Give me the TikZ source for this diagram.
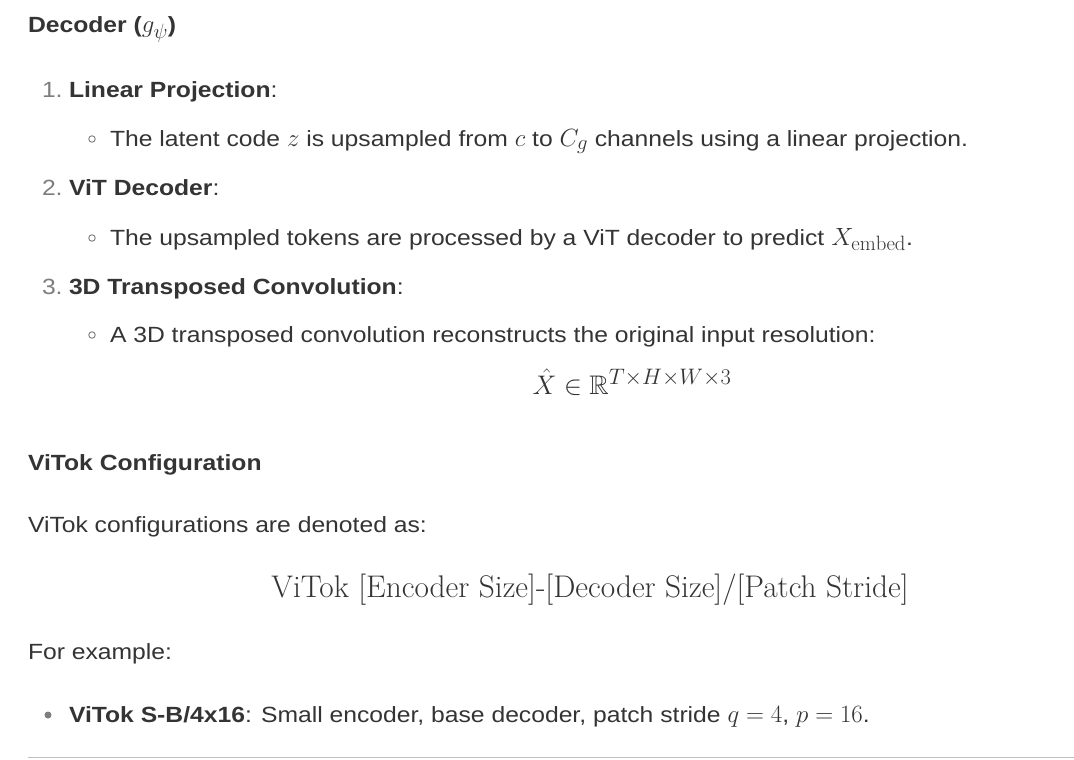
\documentclass[tikz,border=0pt]{standalone}
\usepackage{amsmath,amssymb}
\usepackage{graphicx}
\usepackage{fontspec}
\newfontfamily\bodyfam[FakeStretch=1.122]{Liberation Sans}
\definecolor{txt}{RGB}{52,52,52}
\definecolor{num}{RGB}{125,125,125}
\definecolor{rulec}{RGB}{190,190,190}
\newcommand{\bodyfont}{\fontsize{22}{26}\selectfont\bodyfam}
\newcommand{\mth}[1]{{\fontsize{24.88}{30}\selectfont$#1$}}
\begin{document}
\begin{tikzpicture}[x=1pt,y=-1pt,
  every node/.style={inner sep=0pt,outer sep=0pt,anchor=base west,text=txt,font=\bodyfont},
  numlbl/.style={text=num},
  hollowdot/.style={circle,draw=num,line width=0.9pt,minimum size=6.5pt,anchor=center},
  soliddot/.style={circle,fill=num,minimum size=7pt,anchor=center},
  eqn/.style={anchor=base}]
\useasboundingbox[fill=white] (0,0) rectangle (1074,760);

\node (head1) at (28,33) {\bfseries Decoder (\mth{g_\psi})};

\node[numlbl] (n1) at (42,97) {1.};
\node (t1) at (69,97) {\textbf{Linear Projection}:};
\node[hollowdot] (d1) at (92,139) {};
\node (b1) at (110,146) {The latent code \mth{z} is upsampled from \mth{c} to \mth{C_g} channels using a linear projection.};

\node[numlbl] (n2) at (42,195) {2.};
\node (t2) at (69,195) {\textbf{ViT Decoder}:};
\node[hollowdot] (d2) at (92,238) {};
\node (b2) at (110,245) {The upsampled tokens are processed by a ViT decoder to predict \mth{X_{\mathrm{embed}}}.};

\node[numlbl] (n3) at (42,294) {3.};
\node (t3) at (69,294) {\textbf{3D Transposed Convolution}:};
\node[hollowdot] (d3) at (92,335) {};
\node (b3) at (110,342) {A 3D transposed convolution reconstructs the original input resolution:};

\node[eqn] (eq1) at (632,394) {\scalebox{1.08}{\mth{\hat{X} \in \mathbb{R}^{T \times H \times W \times 3}}}};

\node (head2) at (28,470) {\bfseries ViTok Configuration};

\node (p1) at (28,532) {ViTok configurations are denoted as:};

\node[eqn] (eq2) at (590,597) {\fontsize{31.3}{34}\selectfont\rmfamily ViTok [Encoder Size]-[Decoder Size]/[Patch Stride]};

\node (p2) at (28,659) {For example:};

\node[soliddot] (d4) at (48,715) {};
\node (b4) at (69,722) {\textbf{ViTok S-B/4x16}: Small encoder, base decoder, patch stride \mth{q = 4}, \mth{p = 16}.};

\coordinate (r1) at (28,757);
\coordinate (r2) at (1074,757);
\draw[rulec,line width=1pt] (r1) -- (r2);
\end{tikzpicture}
\end{document}
